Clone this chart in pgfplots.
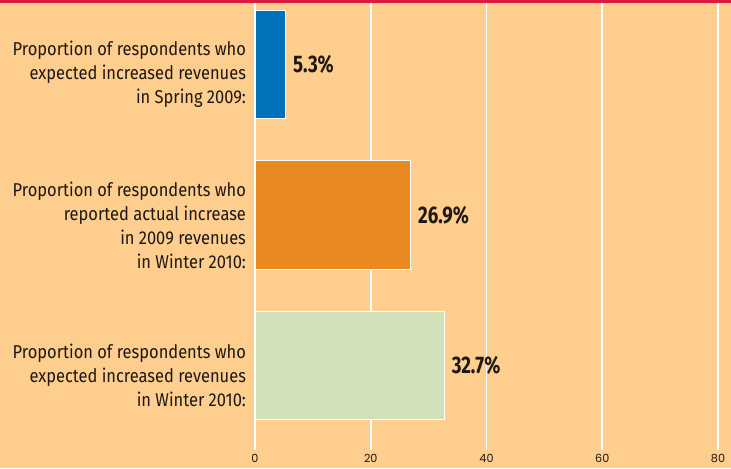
\documentclass[border=0pt]{standalone}
\usepackage{fontspec}
\setmainfont{Fira Sans}
\newfontfamily\labfont[FakeStretch=0.885]{Fira Sans}
\newfontfamily\valfont[FakeStretch=0.78]{Fira Sans}
\newfontfamily\tickfont{Poppins}
\usepackage{pgfplots}
\pgfplotsset{compat=1.18}
\definecolor{bgc}{RGB}{254,206,142}
\definecolor{topred}{RGB}{218,28,62}
\definecolor{cblue}{RGB}{0,114,188}
\definecolor{corange}{RGB}{235,137,33}
\definecolor{cgreen}{RGB}{208,224,184}
\definecolor{txt}{RGB}{30,24,18}
\begin{document}
\begin{tikzpicture}
\useasboundingbox (0,0) rectangle (365.5pt,234pt);
\fill[bgc] (0,0) rectangle (365.5pt,234pt);
\begin{axis}[
  at={(127.5pt,9pt)}, anchor=south west,
  scale only axis, width=238pt, height=223.5pt,
  xmin=0, xmax=82.25, ymin=-0.5615, ymax=2.4086,
  xbar, bar shift=0, bar width=0.72,
  axis line style={draw=none}, tick style={draw=none},
  major tick length=0pt,
  xtick={0,20,40,60,80},
  xmajorgrids, grid style={white, line width=0.8pt},
  xticklabel style={font=\tickfont\fontsize{5.6}{6}\selectfont, text=txt, inner sep=0pt, anchor=center, yshift=-4.2pt},
  /pgf/number format/assume math mode=true,
  ytick={0,1,2},
  yticklabels={{Proportion of respondents who\\expected increased revenues\\in Winter 2010:},
               {Proportion of respondents who\\reported actual increase\\in 2009 revenues\\in Winter 2010:},
               {Proportion of respondents who\\expected increased revenues\\in Spring 2009:}},
  yticklabel style={font=\labfont\fontsize{9.3}{12}\selectfont, text=txt, align=right, yshift=-5pt, xshift=-1pt},
  point meta=x,
  nodes near coords={\pgfmathprintnumber[fixed,precision=1,fixed zerofill]{\pgfplotspointmeta}\%},
  every node near coord/.append style={font=\valfont\bfseries\fontsize{12}{14}\selectfont, text=txt, anchor=west, inner sep=0pt, xshift=3.5pt},
]
\addplot[fill=cblue, draw=white, line width=0.5pt] coordinates {(5.3,2)};
\addplot[fill=corange, draw=white, line width=0.5pt] coordinates {(26.9,1)};
\addplot[fill=cgreen, draw=white, line width=0.5pt] coordinates {(32.7,0)};
\end{axis}
\fill[topred] (0,232.5pt) rectangle (365.5pt,234pt);
\end{tikzpicture}
\end{document}
